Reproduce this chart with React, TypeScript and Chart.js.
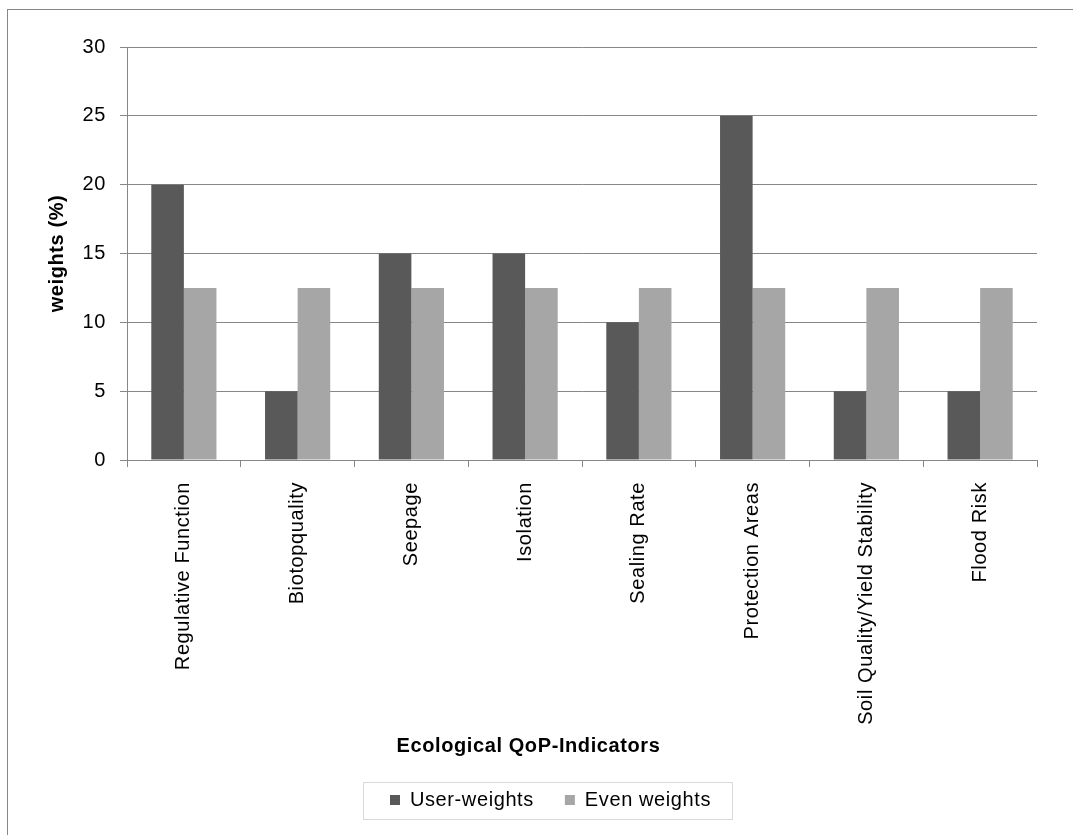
import React, { useEffect, useRef } from "react";
import { Chart, registerables } from "chart.js";

Chart.register(...registerables);

const categories = [
  "Regulative Function",
  "Biotopquality",
  "Seepage",
  "Isolation",
  "Sealing Rate",
  "Protection Areas",
  "Soil Quality/Yield Stability",
  "Flood Risk",
];
const userWeights = [20, 5, 15, 15, 10, 25, 5, 5];
const evenWeights = [12.5, 12.5, 12.5, 12.5, 12.5, 12.5, 12.5, 12.5];
const seriesNames = ["User-weights", "Even weights"];
const yTitle = "weights (%)";
const xTitle = "Ecological QoP-Indicators";

const FONT = "'Liberation Sans', Arial, sans-serif";
const GRID = "#878787";
const SPACING = "0.6px";
const FS = 20;

function setSpacing(chart: any) {
  const ctx = chart.ctx as any;
  if (ctx && "letterSpacing" in ctx) ctx.letterSpacing = SPACING;
}

const framePlugin = {
  id: "frame",
  beforeInit(chart: any) {
    setSpacing(chart);
  },
  beforeUpdate(chart: any) {
    setSpacing(chart);
  },
  beforeLayout(chart: any) {
    setSpacing(chart);
  },
  afterLayout(chart: any) {
    const lg = chart.legend;
    if (lg) {
      lg.left += 22;
      lg.right += 22;
    }
  },
  beforeDraw(chart: any) {
    setSpacing(chart);
    const ctx = chart.ctx;
    ctx.save();
    ctx.fillStyle = "#ffffff";
    ctx.fillRect(0, 0, chart.width, chart.height);
    ctx.strokeStyle = GRID;
    ctx.lineWidth = 1;
    ctx.strokeRect(7.5, 9.5, 3000, 3000);
    ctx.restore();
  },
  afterDraw(chart: any) {
    const lg = chart.legend;
    if (!lg || !lg.legendHitBoxes || !lg.legendHitBoxes.length) return;
    const hb = lg.legendHitBoxes;
    const first = hb[0];
    const last = hb[hb.length - 1];
    const left = Math.round(first.left - 27) + 0.5;
    const right = Math.round(last.left + last.width + 21) + 0.5;
    const top = Math.round(first.top - 8) + 0.5;
    const bottom = Math.round(first.top + first.height + 9) + 0.5;
    const ctx = chart.ctx;
    ctx.save();
    ctx.strokeStyle = "#d9d9d9";
    ctx.lineWidth = 1;
    ctx.strokeRect(left, top, right - left, bottom - top);
    ctx.restore();
  },
};

export default function App() {
  const ref = useRef<HTMLCanvasElement | null>(null);
  useEffect(() => {
    if (!ref.current) return;
    const chart = new Chart(ref.current, {
      type: "bar",
      data: {
        labels: categories,
        datasets: [
          {
            label: seriesNames[0],
            data: userWeights,
            backgroundColor: "#595959",
            borderWidth: 0,
            categoryPercentage: 0.573,
            barPercentage: 1,
          },
          {
            label: seriesNames[1],
            data: evenWeights,
            backgroundColor: "#a6a6a6",
            borderWidth: 0,
            categoryPercentage: 0.573,
            barPercentage: 1,
          },
        ],
      },
      options: {
        responsive: false,
        animation: false,
        devicePixelRatio: 1,
        layout: { padding: { top: 47, left: 20, right: 53, bottom: 15 } },
        plugins: {
          tooltip: { enabled: false },
          title: {
            display: true,
            position: "bottom",
            text: xTitle,
            weight: 500,
            color: "#000",
            font: { family: FONT, size: FS, weight: "bold" },
            padding: { top: 0, bottom: 1 },
          } as any,
          legend: {
            display: true,
            position: "bottom",
            labels: {
              boxWidth: 10,
              boxHeight: 10,
              padding: 31,
              color: "#000",
              font: { family: FONT, size: FS },
            },
          },
        },
        scales: {
          x: {
            grid: {
              display: true,
              drawOnChartArea: false,
              drawTicks: true,
              tickLength: 7,
              color: GRID,
              offset: true,
            },
            border: { display: true, color: GRID, width: 1 },
            ticks: {
              minRotation: 90,
              maxRotation: 90,
              padding: 15,
              color: "#000",
              autoSkip: false,
              font: { family: FONT, size: FS },
            },
            afterFit(scale: any) {
              scale.height = 274;
            },
          },
          y: {
            min: 0,
            max: 30,
            ticks: {
              stepSize: 5,
              padding: 14,
              color: "#000",
              font: { family: FONT, size: FS },
            },
            grid: { color: GRID, tickLength: 7, lineWidth: 1 },
            border: { display: true, color: GRID, width: 1 },
            title: {
              display: true,
              text: yTitle,
              color: "#000",
              font: { family: FONT, size: FS, weight: "bold" },
              padding: { top: 25, bottom: 0 },
            },
            afterFit(scale: any) {
              scale.width = 107;
            },
          },
        },
      },
      plugins: [framePlugin],
    });
    return () => chart.destroy();
  }, []);
  return (
    <div
      style={{
        position: "fixed",
        left: 0,
        top: 0,
        width: 1073,
        height: 835,
        overflow: "hidden",
        background: "#fff",
      }}
    >
      <canvas ref={ref} width={1090} height={835} style={{ width: 1090, height: 835, display: "block" }} />
    </div>
  );
}
